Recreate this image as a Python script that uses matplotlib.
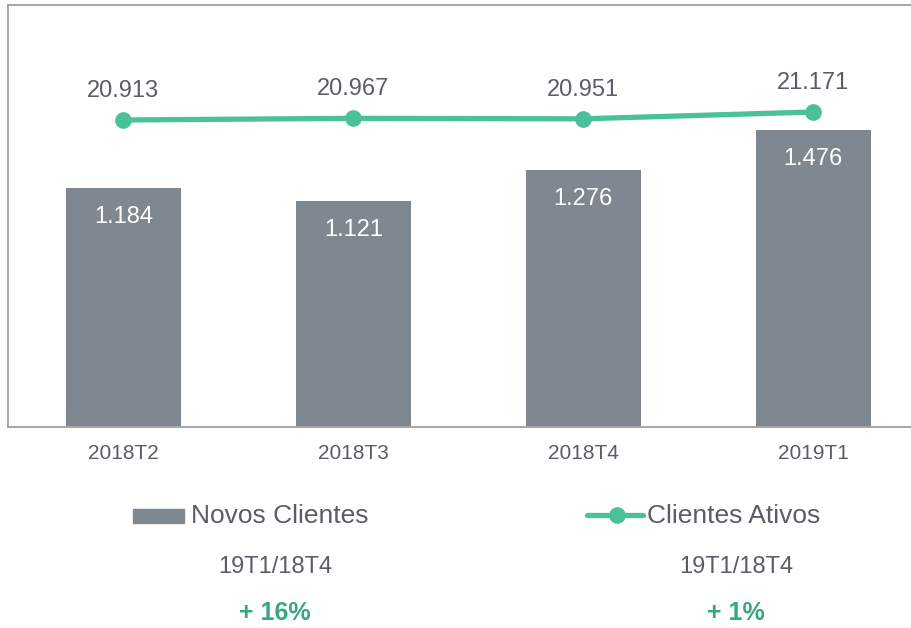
import matplotlib
matplotlib.use("Agg")
import matplotlib.pyplot as plt
from matplotlib.lines import Line2D

categories = ["2018T2", "2018T3", "2018T4", "2019T1"]
novos_clientes = [1.184, 1.121, 1.276, 1.476]
clientes_ativos = [20.913, 20.967, 20.951, 21.171]
bar_labels = ["1.184", "1.121", "1.276", "1.476"]
line_labels = ["20.913", "20.967", "20.951", "21.171"]
series_names = ["Novos Clientes", "Clientes Ativos"]
growth_period = "19T1/18T4"
growth_values = ["+ 16%", "+ 1%"]

plt.rcParams['font.family'] = ['Liberation Sans', 'DejaVu Sans']

BAR = "#7f8790"
GREEN = "#4bc19b"
PCT = "#3aa583"
TXT = "#5a5d66"
FRAME = "#a3a7ab"

fig = plt.figure(figsize=(9.12, 6.28), dpi=100)
W, H = 912, 628
ax = fig.add_axes([8 / W, (H - 427) / H, 904 / W, 422 / H])
ax2 = ax.twinx()

x = list(range(len(categories)))
ax.bar(x, novos_clientes, width=0.5, color=BAR, zorder=2)
ax.set_xlim(-0.502, 3.43)
ax.set_ylim(0, 422 / 201.5)

for xi, v, lab in zip(x, novos_clientes, bar_labels):
    ax.annotate(lab, (xi, v), xytext=(0, -29), textcoords="offset pixels",
                ha="center", va="center", color="white", fontsize=17)

ax2.plot(x, clientes_ativos, color=GREEN, lw=3.8, marker="o", ms=11,
         solid_capstyle="round", zorder=3)
ppu = 31.0
top = 20.913 + (120 - 5) / ppu
ax2.set_ylim(top - 422 / ppu, top)
for xi, v, lab in zip(x, clientes_ativos, line_labels):
    ax2.annotate(lab, (xi, v), xytext=(0, 29), textcoords="offset pixels",
                 ha="center", va="center", color=TXT, fontsize=17)

for a in (ax, ax2):
    a.set_yticks([])
    a.spines["right"].set_visible(False)
    for s in ("left", "top", "bottom"):
        a.spines[s].set_color(FRAME)
        a.spines[s].set_linewidth(1.2)

ax.set_xticks(x)
ax.set_xticklabels(categories, fontsize=15, color=TXT)
ax.tick_params(axis="x", length=0, pad=12)

# Legend-like annotations
fig.patches.append(plt.Rectangle((133 / W, 1 - 523 / H), 51 / W, 14 / H,
                                 transform=fig.transFigure, color=BAR))
fig.text(191 / W, 1 - 516 / H, series_names[0], fontsize=19, color=TXT,
         ha="left", va="center")
fig.add_artist(Line2D([587 / W, 643 / W], [1 - 515 / H, 1 - 515 / H],
                      transform=fig.transFigure, color=GREEN, lw=3.8,
                      solid_capstyle="round"))
fig.add_artist(Line2D([617 / W], [1 - 515 / H], transform=fig.transFigure,
                      color=GREEN, marker="o", ms=11, lw=0))
fig.text(647 / W, 1 - 516 / H, series_names[1], fontsize=19, color=TXT,
         ha="left", va="center")

for cx, gv in zip([275, 736], growth_values):
    fig.text(cx / W, 1 - 567 / H, growth_period, fontsize=17, color=TXT,
             ha="center", va="center")
    fig.text(cx / W, 1 - 613 / H, gv, fontsize=18, color=PCT,
             ha="center", va="center", fontweight="bold")

fig.savefig("out.png", dpi=100)
